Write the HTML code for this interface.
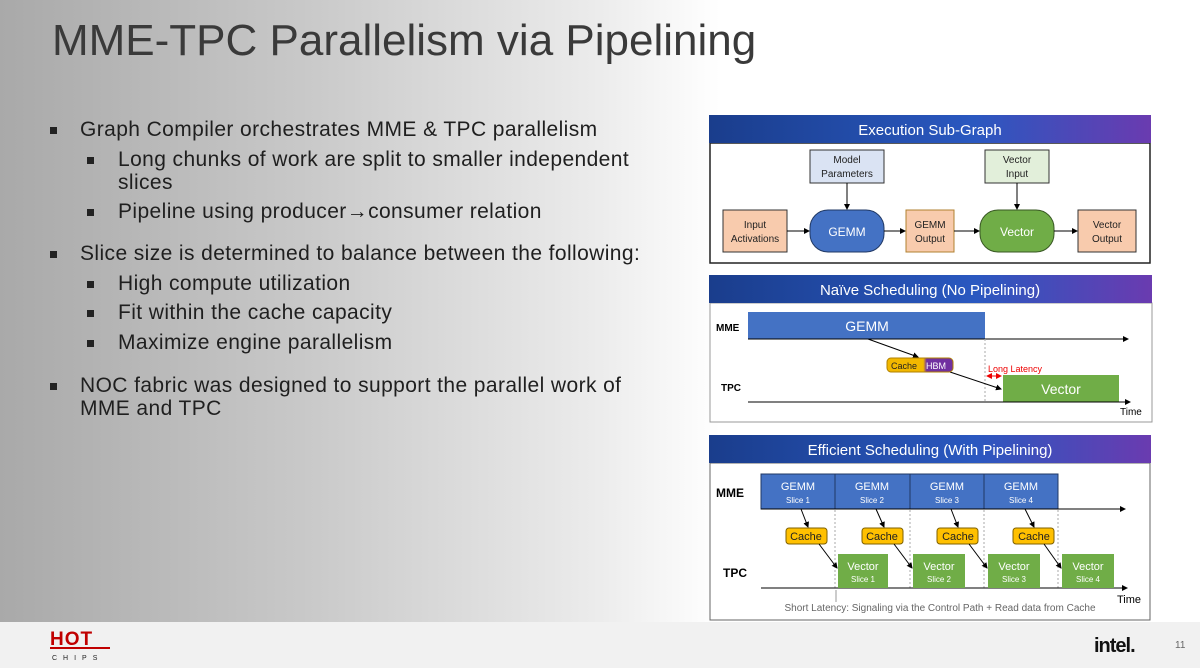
<!DOCTYPE html>
<html><head><style>
body{margin:0;width:1200px;height:668px;overflow:hidden;font-family:"Liberation Sans",sans-serif}
.bg{position:absolute;left:0;top:0;width:1200px;height:622px;background:linear-gradient(90deg,#a9a9a9 0%,#c8c8c8 25%,#ececec 50%,#fff 60%,#fff 100%)}
.ft{position:absolute;left:0;top:622px;width:1200px;height:46px;background:#f1f1f1}
.t{position:absolute;color:#1f1f1f;white-space:nowrap;letter-spacing:0.4px;font-size:21px}
.b{position:absolute;width:7px;height:7px;background:#222}
</style></head><body>
<div class="bg"></div><div class="ft"></div>
<div class="t" style="left:52px;top:16px;font-size:44px;color:#3a3a3a;letter-spacing:0px">MME-TPC Parallelism via Pipelining</div>
<div class="b" style="left:50px;top:127px"></div><div class="t" style="left:80px;top:118px">Graph Compiler orchestrates MME &amp; TPC parallelism</div>
<div class="b" style="left:87px;top:157px"></div><div class="t" style="left:118px;top:148px">Long chunks of work are split to smaller independent</div>
<div class="t" style="left:118px;top:171px">slices</div>
<div class="b" style="left:87px;top:209px"></div><div class="t" style="left:118px;top:200px">Pipeline using producer→consumer relation</div>
<div class="b" style="left:50px;top:251px"></div><div class="t" style="left:80px;top:242px">Slice size is determined to balance between the following:</div>
<div class="b" style="left:87px;top:281px"></div><div class="t" style="left:118px;top:272px">High compute utilization</div>
<div class="b" style="left:87px;top:310px"></div><div class="t" style="left:118px;top:301px">Fit within the cache capacity</div>
<div class="b" style="left:87px;top:340px"></div><div class="t" style="left:118px;top:331px">Maximize engine parallelism</div>
<div class="b" style="left:50px;top:383px"></div><div class="t" style="left:80px;top:374px">NOC fabric was designed to support the parallel work of</div>
<div class="t" style="left:80px;top:397px">MME and TPC</div>

<svg style="position:absolute;left:0;top:0" width="1200" height="668" font-family="Liberation Sans, sans-serif">
<defs>
<linearGradient id="hg" x1="0" x2="1"><stop offset="0" stop-color="#1a3d8c"/><stop offset="0.6" stop-color="#2a58c0"/><stop offset="1" stop-color="#6a3bb0"/></linearGradient>
<linearGradient id="ch" x1="0" x2="1"><stop offset="0.55" stop-color="#f2b800"/><stop offset="0.6" stop-color="#7030a0"/></linearGradient>
<marker id="a" markerWidth="6" markerHeight="6" refX="5" refY="3" orient="auto"><path d="M0,0L6,3L0,6z" fill="#000"/></marker>
<marker id="r" markerWidth="6" markerHeight="6" refX="5" refY="3" orient="auto"><path d="M0,0L6,3L0,6z" fill="#e00"/></marker>
<marker id="rs" markerWidth="6" markerHeight="6" refX="1" refY="3" orient="auto"><path d="M6,0L0,3L6,6z" fill="#e00"/></marker>
</defs>
<rect x="710" y="143" width="440" height="120" fill="#fff" stroke="#222" stroke-width="1.5"/>
<rect x="709" y="115" width="442" height="28" fill="url(#hg)"/>
<text x="930" y="135" fill="#fff" font-size="15" text-anchor="middle">Execution Sub-Graph</text>
<g font-size="10" text-anchor="middle" fill="#222">
<rect x="810" y="150" width="74" height="33" fill="#dae3f3" stroke="#333"/><text x="847" y="163">Model</text><text x="847" y="177">Parameters</text>
<rect x="985" y="150" width="64" height="33" fill="#e2efda" stroke="#333"/><text x="1017" y="163">Vector</text><text x="1017" y="177">Input</text>
<rect x="723" y="210" width="64" height="42" fill="#f8cbad" stroke="#333"/><text x="755" y="228">Input</text><text x="755" y="242">Activations</text>
<rect x="906" y="210" width="48" height="42" fill="#f8cbad" stroke="#b08030"/><text x="930" y="228">GEMM</text><text x="930" y="242">Output</text>
<rect x="1078" y="210" width="58" height="42" fill="#f8cbad" stroke="#333"/><text x="1107" y="228">Vector</text><text x="1107" y="242">Output</text>
<rect x="810" y="210" width="74" height="42" rx="18" fill="#4472c4" stroke="#203864"/><text x="847" y="236" fill="#fff" font-size="12">GEMM</text>
<rect x="980" y="210" width="74" height="42" rx="18" fill="#70ad47" stroke="#385723"/><text x="1017" y="236" fill="#fff" font-size="12">Vector</text>
</g>
<g stroke="#000" marker-end="url(#a)">
<line x1="847" y1="183" x2="847" y2="209"/><line x1="1017" y1="183" x2="1017" y2="209"/>
<line x1="787" y1="231" x2="809" y2="231"/><line x1="884" y1="231" x2="905" y2="231"/>
<line x1="954" y1="231" x2="979" y2="231"/><line x1="1054" y1="231" x2="1077" y2="231"/>
</g>
<rect x="710" y="303" width="442" height="119" fill="#fff" stroke="#999"/>
<rect x="709" y="275" width="443" height="28" fill="url(#hg)"/>
<text x="930" y="295" fill="#fff" font-size="15" text-anchor="middle">Naïve Scheduling (No Pipelining)</text>
<rect x="748" y="312" width="237" height="27" fill="#4472c4"/><text x="867" y="331" fill="#fff" font-size="14" text-anchor="middle">GEMM</text>
<rect x="1003" y="375" width="116" height="27" fill="#70ad47"/><text x="1061" y="394" fill="#fff" font-size="14" text-anchor="middle">Vector</text>
<text x="716" y="331" font-size="10" font-weight="bold">MME</text><text x="721" y="391" font-size="10" font-weight="bold">TPC</text>
<line x1="748" y1="339" x2="1128" y2="339" stroke="#000" marker-end="url(#a)"/>
<line x1="748" y1="402" x2="1130" y2="402" stroke="#000" marker-end="url(#a)"/>
<line x1="985" y1="339" x2="985" y2="402" stroke="#aaa" stroke-dasharray="2,2"/>
<line x1="868" y1="339" x2="918" y2="357" stroke="#000" marker-end="url(#a)"/>
<line x1="950" y1="372" x2="1001" y2="389" stroke="#000" marker-end="url(#a)"/>
<rect x="887" y="358" width="66" height="14" rx="4" fill="url(#ch)" stroke="#b08000"/>
<text x="891" y="369" font-size="9" fill="#222">Cache</text><text x="926" y="369" font-size="9" fill="#fff">HBM</text>
<text x="988" y="372" font-size="9" fill="#e00">Long Latency</text>
<line x1="987" y1="376" x2="1001" y2="376" stroke="#e00" marker-end="url(#r)" marker-start="url(#rs)"/>
<text x="1120" y="415" font-size="10">Time</text>
<rect x="710" y="463" width="440" height="157" fill="#fff" stroke="#666"/>
<rect x="709" y="435" width="442" height="28" fill="url(#hg)"/>
<text x="930" y="455" fill="#fff" font-size="15" text-anchor="middle">Efficient Scheduling (With Pipelining)</text>
<text x="716" y="497" font-size="12" font-weight="bold">MME</text><text x="723" y="577" font-size="12" font-weight="bold">TPC</text>
<g stroke="#aaa" stroke-dasharray="2,2"><line x1="835" y1="474" x2="835" y2="588"/><line x1="910" y1="474" x2="910" y2="588"/><line x1="984" y1="474" x2="984" y2="588"/><line x1="1058" y1="474" x2="1058" y2="588"/></g>
<g fill="#4472c4" stroke="#203864"><rect x="761" y="474" width="74" height="35"/><rect x="835" y="474" width="75" height="35"/><rect x="910" y="474" width="74" height="35"/><rect x="984" y="474" width="74" height="35"/></g>
<g fill="#fff" text-anchor="middle"><text x="798" y="490" font-size="11">GEMM</text><text x="798" y="503" font-size="8">Slice 1</text>
<text x="872" y="490" font-size="11">GEMM</text><text x="872" y="503" font-size="8">Slice 2</text>
<text x="947" y="490" font-size="11">GEMM</text><text x="947" y="503" font-size="8">Slice 3</text>
<text x="1021" y="490" font-size="11">GEMM</text><text x="1021" y="503" font-size="8">Slice 4</text></g>
<line x1="761" y1="509" x2="1125" y2="509" stroke="#000" marker-end="url(#a)"/>
<line x1="761" y1="588" x2="1127" y2="588" stroke="#000" marker-end="url(#a)"/>
<g fill="#70ad47"><rect x="838" y="554" width="50" height="34"/><rect x="913" y="554" width="52" height="34"/><rect x="988" y="554" width="52" height="34"/><rect x="1062" y="554" width="52" height="34"/></g>
<g fill="#fff" text-anchor="middle"><text x="863" y="570" font-size="11">Vector</text><text x="863" y="582" font-size="8">Slice 1</text>
<text x="939" y="570" font-size="11">Vector</text><text x="939" y="582" font-size="8">Slice 2</text>
<text x="1014" y="570" font-size="11">Vector</text><text x="1014" y="582" font-size="8">Slice 3</text>
<text x="1088" y="570" font-size="11">Vector</text><text x="1088" y="582" font-size="8">Slice 4</text></g>
<g fill="#ffc000" stroke="#7f6000"><rect x="786" y="528" width="41" height="16" rx="3"/><rect x="862" y="528" width="41" height="16" rx="3"/><rect x="937" y="528" width="41" height="16" rx="3"/><rect x="1013" y="528" width="41" height="16" rx="3"/></g>
<g font-size="11" text-anchor="middle" fill="#222"><text x="806" y="540">Cache</text><text x="882" y="540">Cache</text><text x="958" y="540">Cache</text><text x="1034" y="540">Cache</text></g>
<g stroke="#000" marker-end="url(#a)">
<line x1="801" y1="509" x2="808" y2="527"/><line x1="876" y1="509" x2="884" y2="527"/><line x1="951" y1="509" x2="958" y2="527"/><line x1="1025" y1="509" x2="1034" y2="527"/>
<line x1="819" y1="544" x2="837" y2="568"/><line x1="894" y1="544" x2="912" y2="568"/><line x1="969" y1="544" x2="987" y2="568"/><line x1="1044" y1="544" x2="1061" y2="568"/>
</g>
<line x1="836" y1="602" x2="836" y2="590" stroke="#999"/>
<text x="940" y="611" font-size="10" fill="#666" text-anchor="middle">Short Latency: Signaling via the Control Path + Read data from Cache</text>
<text x="1117" y="603" font-size="11">Time</text>
<text x="50" y="645" font-size="19" font-weight="bold" fill="#c00000" letter-spacing="1">HOT</text>
<line x1="50" y1="648" x2="110" y2="648" stroke="#c00000" stroke-width="2"/>
<text x="52" y="660" font-size="7" fill="#222" letter-spacing="6">CHIPS</text>
<text x="1094" y="652" font-size="20" font-weight="bold" fill="#111" letter-spacing="-1">intel.</text>
<text x="1175" y="648" font-size="10" fill="#666">11</text>
</svg>
</body></html>
